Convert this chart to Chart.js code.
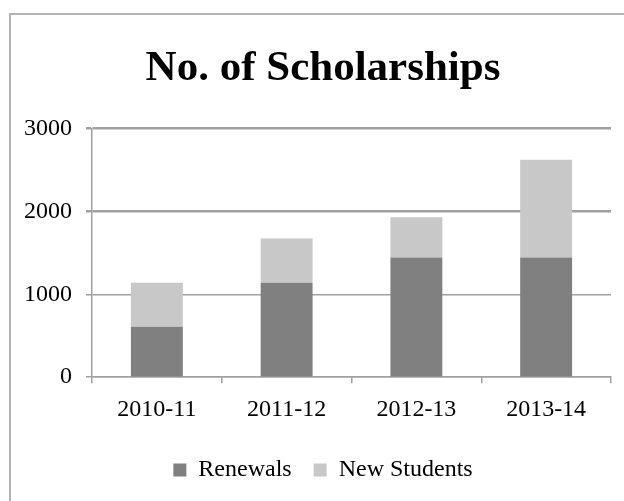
<!DOCTYPE html>
<html>
<head>
<meta charset="utf-8">
<script src="https://cdn.jsdelivr.net/npm/chart.js@4.4.1/dist/chart.umd.min.js"></script>
<style>
  html, body { margin: 0; padding: 0; background: #fff; }
  #wrap { position: relative; width: 624px; height: 501px; overflow: hidden; }
  #frame { position: absolute; left: 9px; top: 13px; width: 700px; height: 600px; border: 2px solid #b4b4b4; box-sizing: border-box; }
  canvas { position: absolute; left: 0; top: 0; }
</style>
</head>
<body>
<div id="wrap">
  <div id="frame"></div>
  <canvas id="c" width="624" height="501"></canvas>
</div>
<script>
const titleText = 'No. of Scholarships';
const categories = ['2010-11', '2011-12', '2012-13', '2013-14'];
const renewals = [610, 1140, 1445, 1445];
const newStudents = [530, 535, 485, 1180];
const yTicks = [0, 1000, 2000, 3000];

const serif = 'Liberation Serif';
const padLeft = 22;

new Chart(document.getElementById('c'), {
  type: 'bar',
  data: {
    labels: categories,
    datasets: [
      { label: 'Renewals', data: renewals, backgroundColor: '#808080', borderWidth: 0,
        categoryPercentage: 0.8, barPercentage: 0.5 },
      { label: 'New Students', data: newStudents, backgroundColor: '#c8c8c8', borderWidth: 0,
        categoryPercentage: 0.8, barPercentage: 0.5 }
    ]
  },
  options: {
    responsive: false,
    animation: false,
    events: [],
    layout: { padding: { left: padLeft, right: 0, top: 0, bottom: 9 } },
    plugins: {
      title: {
        display: true,
        text: titleText,
        color: '#000',
        font: { family: serif, size: 43, weight: 'bold', lineHeight: 1.2 },
        padding: { top: 43, bottom: 34 }
      },
      legend: {
        position: 'bottom',
        labels: {
          color: '#000',
          font: { family: serif, size: 24 },
          boxWidth: 13,
          boxHeight: 13,
          padding: 22
        }
      },
      tooltip: { enabled: false }
    },
    scales: {
      x: {
        stacked: true,
        grid: { display: true, drawOnChartArea: false, offset: true, color: '#a0a0a0', lineWidth: 1.5, tickLength: 6 },
        border: { display: true, color: '#a0a0a0', width: 1.5 },
        ticks: { color: '#000', font: { family: serif, size: 24 }, padding: 12, maxRotation: 0 }
      },
      y: {
        stacked: true,
        min: 0,
        max: 3000,
        afterBuildTicks: (scale) => { scale.ticks = yTicks.map(v => ({ value: v })); },
        afterFit: (scale) => { scale.width = 92 - padLeft; },
        grid: {
          color: '#a0a0a0',
          lineWidth: (ctx) => (ctx.tick && ctx.tick.value >= 2000 ? 2.5 : 1.5),
          tickLength: 6
        },
        border: { display: true, color: '#a0a0a0', width: 1.5 },
        ticks: {
          color: '#000',
          font: { family: serif, size: 24 },
          padding: 14,
          callback: (v) => String(v)
        }
      },
      yRightSpace: {
        type: 'linear',
        position: 'right',
        display: true,
        grid: { display: false, drawOnChartArea: false },
        border: { display: false },
        ticks: { display: false },
        afterFit: (scale) => { scale.width = 13; }
      }
    }
  }
});
</script>
</body>
</html>
